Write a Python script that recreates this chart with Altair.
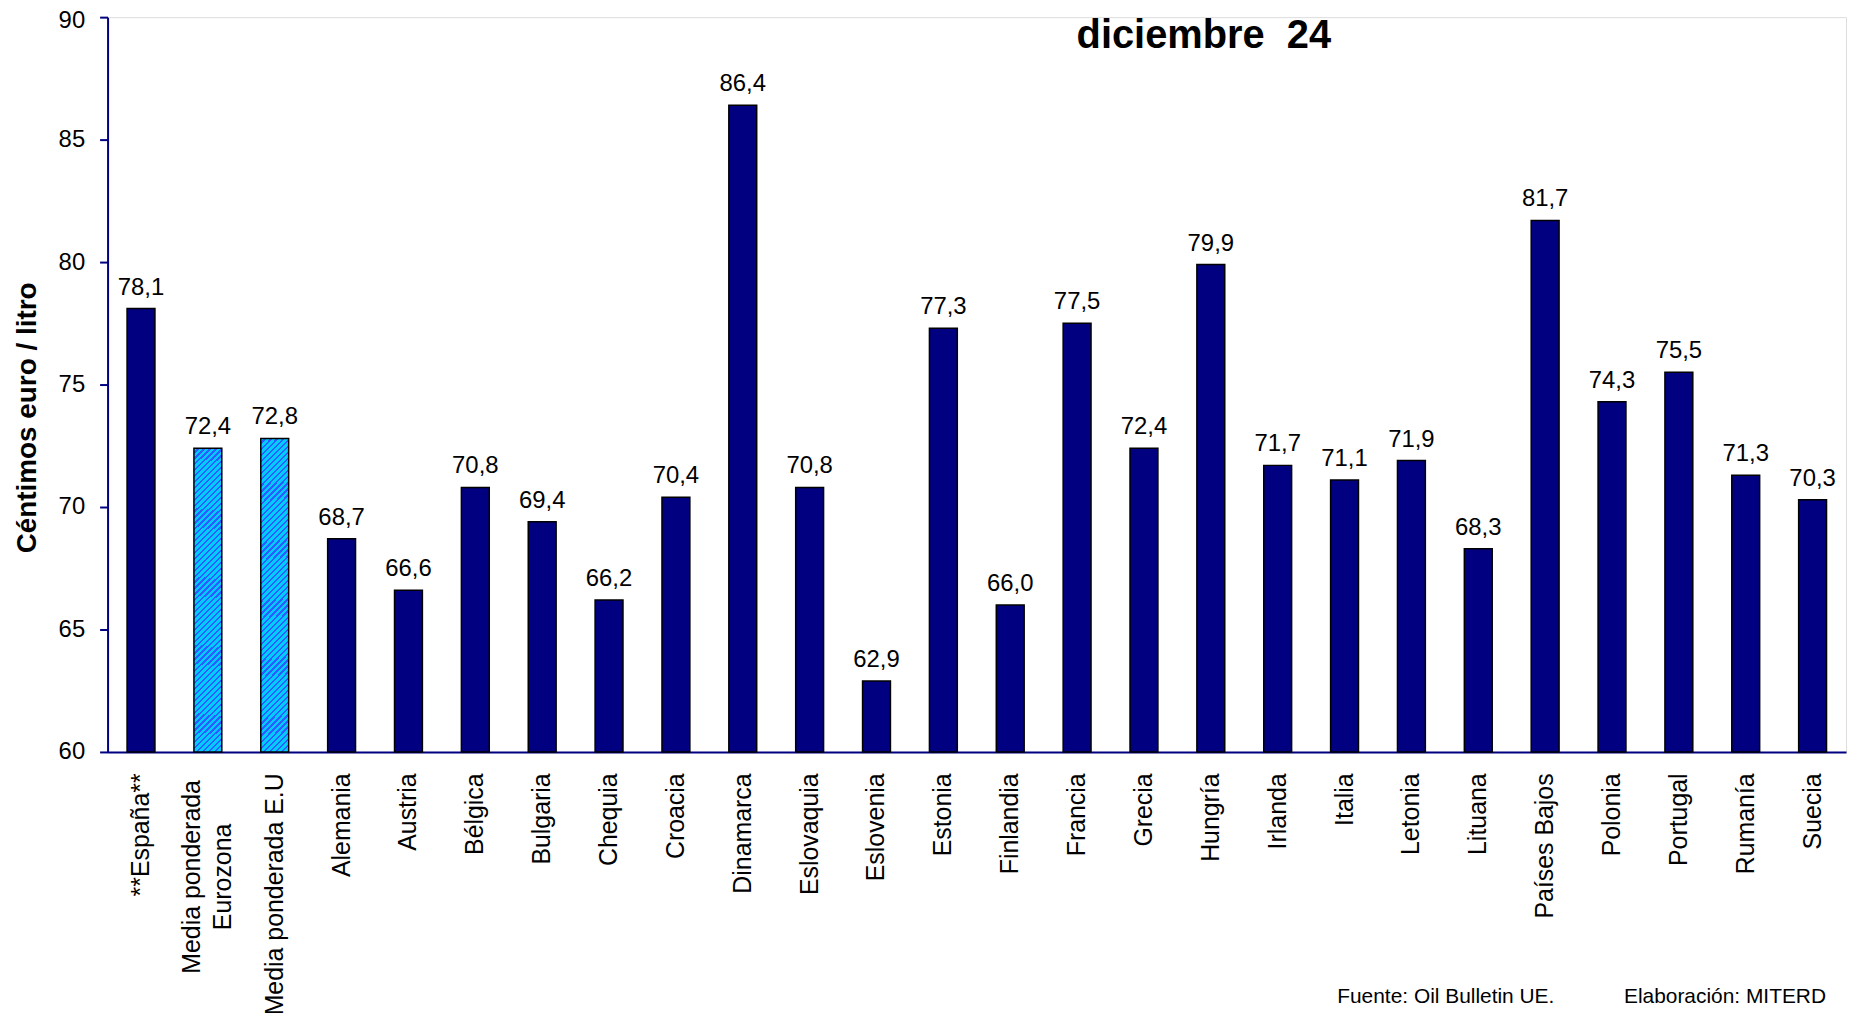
import altair as alt
import pandas as pd

# ---- data ----
categorias = ["**España**", "Media ponderada|Eurozona", "Media ponderada E.U", "Alemania", "Austria",
              "Bélgica", "Bulgaria", "Chequia", "Croacia", "Dinamarca", "Eslovaquia", "Eslovenia",
              "Estonia", "Finlandia", "Francia", "Grecia", "Hungría", "Irlanda", "Italia", "Letonia",
              "Lituana", "Países Bajos", "Polonia", "Portugal", "Rumanía", "Suecia"]
valores = [78.1, 72.4, 72.8, 68.7, 66.6, 70.8, 69.4, 66.2, 70.4, 86.4, 70.8, 62.9, 77.3, 66.0,
           77.5, 72.4, 79.9, 71.7, 71.1, 71.9, 68.3, 81.7, 74.3, 75.5, 71.3, 70.3]
es_media = [False, True, True] + [False] * 23
y_ticks = [60, 65, 70, 75, 80, 85, 90]
y_min, y_max = 60, 90
titulo = "diciembre \u00a024"
eje_y = "Céntimos euro / litro"
fuente = "Fuente: Oil Bulletin UE."
elaboracion = "Elaboración: MITERD"

df = pd.DataFrame({"cat": categorias, "valor": valores, "media": es_media})

W, H = 1746, 738
FONT = "Liberation Sans"
NAVY = "#000080"
CYAN = "#00CCFF"
STRIPE = "#2A5CFF"

# hatched fill ("/" stripes) approximated with a hard-stop linear gradient
bw, bh = 28.0, 310.0
s = (bw + bh) / (bw * bw + bh * bh)
n_per = 56
stops = []
for k in range(n_per):
    a = k / n_per
    b = (k + 0.62) / n_per
    c = (k + 1) / n_per
    stops += [{"offset": a, "color": CYAN}, {"offset": b, "color": CYAN},
              {"offset": b, "color": STRIPE}, {"offset": min(c, 1.0), "color": STRIPE}]
hatch = {"gradient": "linear", "x1": 0, "y1": 0, "x2": s * bw, "y2": s * bh, "stops": stops}

multi = "indexof(datum.value, '|') >= 0"
label_expr = "indexof(datum.label, '|') >= 0 ? split(datum.label, '|') : datum.label"

x_enc = alt.X("cat:N", sort=categorias, title=None,
              scale=alt.Scale(paddingInner=0, paddingOuter=0),
              axis=alt.Axis(labelAngle=-90, labelFontSize=25, labelColor="black", labelFont=FONT,
                            labelPadding={"condition": {"test": multi, "value": 125}, "value": 21},
                            labelAlign={"condition": {"test": multi, "value": "center"}, "value": "right"},
                            labelOffset={"condition": {"test": multi, "value": -16}, "value": 0},
                            labelBaseline="middle",
                            ticks=False, tickSize=0, labelLimit=500,
                            labelExpr=label_expr, labelLineHeight=31,
                            domainColor=NAVY, domainWidth=2, grid=False))
y_enc = alt.Y("valor:Q", title=eje_y,
              scale=alt.Scale(domain=[y_min, y_max], nice=False, zero=False),
              axis=alt.Axis(values=y_ticks, labelFontSize=24, labelColor="black", labelFont=FONT,
                            labelPadding=15, tickSize=8, tickColor=NAVY, tickWidth=2,
                            labelOffset={"condition": {"test": "datum.value == %d" % y_max, "value": 3}, "value": 0},
                            domainColor=NAVY, domainWidth=2, grid=False,
                            titleFont=FONT, titleFontSize=28, titleFontWeight="bold",
                            titleColor="black", titleX=-72, titleY=402, titleAngle=270,
                            titleBaseline="alphabetic", titleAlign="center"))

base = alt.Chart(df)

bars = base.transform_filter("!datum.media").mark_bar(
    size=28, fill=NAVY, stroke="black", strokeWidth=1.5
).encode(x=x_enc, y=y_enc, y2=alt.datum(y_min))

bars_media = base.transform_filter("datum.media").mark_bar(
    size=28, fill=hatch, stroke="black", strokeWidth=1.5
).encode(x=x_enc, y=y_enc, y2=alt.datum(y_min))

labels = base.transform_calculate(
    etiqueta="replace(format(datum.valor, '.1f'), '.', ',')"
).mark_text(baseline="alphabetic", dy=-14, fontSize=24, font=FONT, color="black").encode(
    x=x_enc, y=y_enc, text="etiqueta:N")

title_txt = alt.Chart(pd.DataFrame({"t": [titulo]})).mark_text(
    fontSize=40, fontWeight="bold", font=FONT, color="black", align="center", baseline="alphabetic"
).encode(text="t:N", x=alt.value(1101), y=alt.value(31))

foot1 = alt.Chart(pd.DataFrame({"t": [fuente]})).mark_text(
    fontSize=21, font=FONT, color="black", align="left", baseline="alphabetic"
).encode(text="t:N", x=alt.value(1235), y=alt.value(990))

foot2 = alt.Chart(pd.DataFrame({"t": [elaboracion]})).mark_text(
    fontSize=21, font=FONT, color="black", align="left", baseline="alphabetic"
).encode(text="t:N", x=alt.value(1523), y=alt.value(990))

chart = alt.layer(bars, bars_media, labels, title_txt, foot1, foot2).properties(
    width=W, height=H,
    autosize=alt.AutoSizeParams(type="none"),
    padding={"left": 100, "top": 7, "right": 5, "bottom": 260},
).configure_view(stroke=None).configure(font=FONT, background="white")

chart.save("out.html", embed_options={"renderer": "svg", "actions": False})
